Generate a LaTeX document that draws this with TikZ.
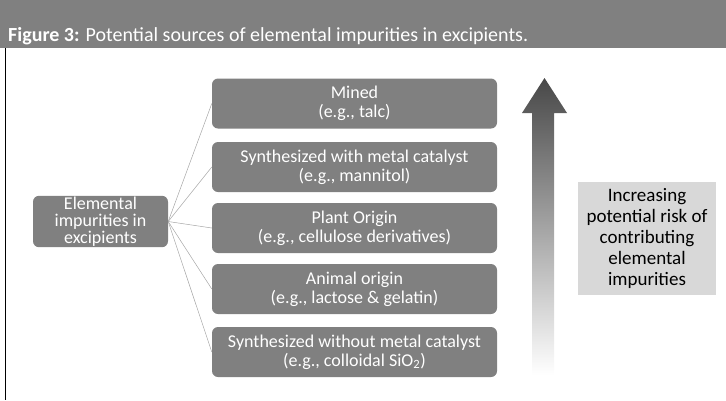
\documentclass[tikz,border=0pt]{standalone}
\usepackage{fontspec}
\setmainfont{Carlito}
\usetikzlibrary{positioning,calc}
\definecolor{eiGray}{RGB}{128,128,128}
\definecolor{eiLight}{RGB}{216,216,216}
\definecolor{eiDark}{RGB}{72,72,72}

\begin{document}
\begin{tikzpicture}[x=1pt, y=-1pt,
  src/.style={rounded corners=6pt, fill=eiGray, text=white, align=center, font=\fontsize{18}{17}\selectfont, minimum width=135pt, minimum height=51pt, inner sep=1pt},
  box/.style={rounded corners=6pt, fill=eiGray, text=white, align=center, font=\fontsize{18}{19}\selectfont, minimum width=285pt, minimum height=50pt, inner sep=1pt},
  link/.style={eiGray!70, line width=0.5pt}]
  \useasboundingbox (0,0) rectangle (726,400);
  % title bar and frame
  \fill[eiGray] (0,0) rectangle (726,48);
  \node[anchor=base west, text=white, font=\fontsize{20}{24}\selectfont, inner sep=0pt] (title) at (8,41) {\textbf{Figure 3:} Potential sources of elemental impurities in excipients.};
  \draw[black, line width=1pt] (5,48) -- (5,400);

  \node[src] (ei) at (100.5,221.5) {Elemental\\impurities in\\excipients};

  \node[box] (mined) at (354.5,103.5) {Mined\\(e.g., talc)};
  \node[box] (withcat) at (354.5,167) {Synthesized with metal catalyst\\(e.g., mannitol)};
  \node[box] (plant) at (354.5,228) {Plant Origin\\(e.g., cellulose derivatives)};
  \node[box] (animal) at (354.5,289) {Animal origin\\(e.g., lactose \& gelatin)};
  \node[box] (nocat) at (354.5,352) {Synthesized without metal catalyst\\(e.g., colloidal SiO\textsubscript{2})};

  \draw[link] (ei.east) -- (mined.west);
  \draw[link] (ei.east) -- (withcat.west);
  \draw[link] (ei.east) -- (plant.west);
  \draw[link] (ei.east) -- (animal.west);
  \draw[link] (ei.east) -- (nocat.west);

  % risk arrow
  \shade[top color=eiDark, bottom color=white] (532,375) -- (532,113) -- (522,113) -- (544.5,78) -- (567,113) -- (554,113) -- (554,375) -- cycle;

  \node[fill=eiLight, align=center, minimum width=138pt, minimum height=113pt, font=\fontsize{19}{21}\selectfont, inner sep=1pt] (risk) at (647,238.5) {Increasing\\potential risk of\\contributing\\elemental\\impurities};
\end{tikzpicture}
\end{document}
